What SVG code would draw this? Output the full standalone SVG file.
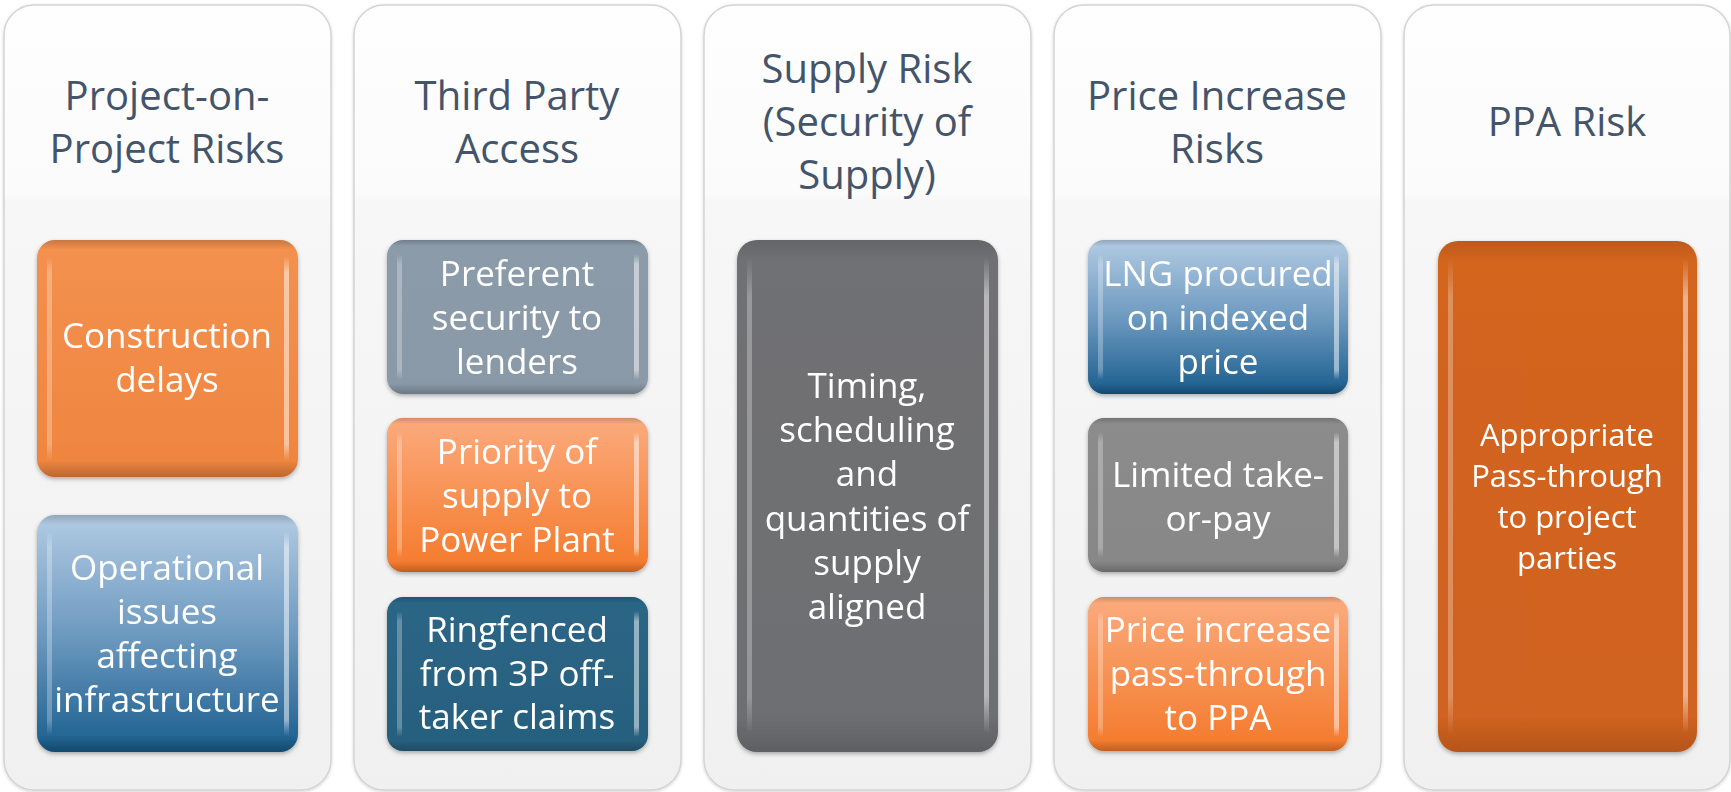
<svg xmlns="http://www.w3.org/2000/svg" width="1731" height="792" viewBox="0 0 1731 792">
<style>
.panel{fill:url(#panelG);stroke:#d4d4d4;stroke-width:1.5}
.title{font-family:"Open Sans","Noto Sans",sans-serif;font-size:40px;fill:#44546A;text-anchor:middle}
.lbl{font-family:"Open Sans","Noto Sans",sans-serif;font-size:35px;fill:#ffffff;text-anchor:middle}
.lbl5{font-family:"Open Sans","Noto Sans",sans-serif;font-size:31px;fill:#ffffff;text-anchor:middle}
.box{filter:url(#sh)}
.bev{fill:url(#bevV)}
.hl{fill:url(#hlG);opacity:.28}
.hr{fill:url(#hlG);opacity:.5}
</style>
<defs>
<linearGradient id="panelG" x1="0" y1="0" x2="0" y2="1">
<stop offset="0" stop-color="#fefefe"/><stop offset="0.24" stop-color="#fbfbfb"/><stop offset="0.25" stop-color="#f7f7f7"/><stop offset="1" stop-color="#f0f0f0"/>
</linearGradient>
<linearGradient id="hlG" x1="0" y1="0" x2="0" y2="1">
<stop offset="0" stop-color="#fff" stop-opacity="0"/><stop offset="0.08" stop-color="#fff" stop-opacity="1"/><stop offset="0.92" stop-color="#fff" stop-opacity="1"/><stop offset="1" stop-color="#fff" stop-opacity="0"/>
</linearGradient>
<linearGradient id="bevV" x1="0" y1="0" x2="0" y2="1">
<stop offset="0" stop-color="#000" stop-opacity=".18"/><stop offset="0.04" stop-color="#000" stop-opacity="0"/><stop offset="0.93" stop-color="#000" stop-opacity="0"/><stop offset="1" stop-color="#000" stop-opacity=".22"/>
</linearGradient>
<linearGradient id="gOr1" x1="0" y1="0" x2="0" y2="1"><stop offset="0" stop-color="#F3914F"/><stop offset="1" stop-color="#EF853F"/></linearGradient>
<linearGradient id="gBlue" x1="0" y1="0" x2="0" y2="1"><stop offset="0" stop-color="#B2CBE3"/><stop offset="0.5" stop-color="#6E9AC0"/><stop offset="1" stop-color="#195D8D"/></linearGradient>
<linearGradient id="gSlate" x1="0" y1="0" x2="0" y2="1"><stop offset="0" stop-color="#8B9BAA"/><stop offset="1" stop-color="#8A99A8"/></linearGradient>
<linearGradient id="gOr2" x1="0" y1="0" x2="0" y2="1"><stop offset="0" stop-color="#FBAB7E"/><stop offset="1" stop-color="#F4792A"/></linearGradient>
<linearGradient id="gTeal" x1="0" y1="0" x2="0" y2="1"><stop offset="0" stop-color="#2A6686"/><stop offset="1" stop-color="#285F7E"/></linearGradient>
<linearGradient id="gGray1" x1="0" y1="0" x2="0" y2="1"><stop offset="0" stop-color="#707174"/><stop offset="1" stop-color="#6D6E71"/></linearGradient>
<linearGradient id="gGray2" x1="0" y1="0" x2="0" y2="1"><stop offset="0" stop-color="#8C8C8C"/><stop offset="1" stop-color="#878787"/></linearGradient>
<linearGradient id="gOr3" x1="0" y1="0" x2="0" y2="1"><stop offset="0" stop-color="#D3651F"/><stop offset="1" stop-color="#D06220"/></linearGradient>
<filter id="sh" x="-10%" y="-10%" width="120%" height="125%"><feDropShadow dx="0" dy="2" stdDeviation="2" flood-color="#000" flood-opacity=".3"/></filter>
<filter id="psh" x="-5%" y="-5%" width="110%" height="110%"><feDropShadow dx="0" dy="1" stdDeviation="1.5" flood-color="#000" flood-opacity=".18"/></filter>
</defs>

<g id="col1">
<rect class="panel" x="4" y="5" width="327" height="785" rx="30" filter="url(#psh)"/>
<text class="title" x="167" y="110">Project-on-</text>
<text class="title" x="167" y="163">Project Risks</text>
<g id="construction-delays" class="box">
<rect x="37" y="240" width="261" height="237" rx="18" fill="url(#gOr1)"/>
<rect class="bev" x="37" y="240" width="261" height="237" rx="18"/>
<rect class="hl" x="47" y="256" width="5" height="205" rx="2.5"/>
<rect class="hr" x="284" y="256" width="5" height="205" rx="2.5"/>
<text class="lbl" x="167" y="348">Construction</text>
<text class="lbl" x="167" y="392">delays</text>
</g>
<g id="operational-issues" class="box">
<rect x="37" y="515" width="261" height="237" rx="18" fill="url(#gBlue)"/>
<rect class="bev" x="37" y="515" width="261" height="237" rx="18"/>
<rect class="hl" x="47" y="531" width="5" height="205" rx="2.5"/>
<rect class="hr" x="284" y="531" width="5" height="205" rx="2.5"/>
<text class="lbl" x="167" y="580">Operational</text>
<text class="lbl" x="167" y="624">issues</text>
<text class="lbl" x="167" y="668">affecting</text>
<text class="lbl" x="167" y="712">infrastructure</text>
</g>
</g>

<g id="col2">
<rect class="panel" x="354" y="5" width="327" height="785" rx="30" filter="url(#psh)"/>
<text class="title" x="517" y="110">Third Party</text>
<text class="title" x="517" y="163">Access</text>
<g id="preferent-security" class="box">
<rect x="387" y="240" width="261" height="154" rx="16" fill="url(#gSlate)"/>
<rect class="bev" x="387" y="240" width="261" height="154" rx="16"/>
<rect class="hl" x="397" y="254" width="5" height="126" rx="2.5"/>
<rect class="hr" x="634" y="254" width="5" height="126" rx="2.5"/>
<text class="lbl" x="517" y="286">Preferent</text>
<text class="lbl" x="517" y="330">security to</text>
<text class="lbl" x="517" y="374">lenders</text>
</g>
<g id="priority-of-supply" class="box">
<rect x="387" y="418" width="261" height="154" rx="16" fill="url(#gOr2)"/>
<rect class="bev" x="387" y="418" width="261" height="154" rx="16"/>
<rect class="hl" x="397" y="432" width="5" height="126" rx="2.5"/>
<rect class="hr" x="634" y="432" width="5" height="126" rx="2.5"/>
<text class="lbl" x="517" y="464">Priority of</text>
<text class="lbl" x="517" y="508">supply to</text>
<text class="lbl" x="517" y="552">Power Plant</text>
</g>
<g id="ringfenced" class="box">
<rect x="387" y="597" width="261" height="154" rx="16" fill="url(#gTeal)"/>
<rect class="bev" x="387" y="597" width="261" height="154" rx="16"/>
<rect class="hl" x="397" y="611" width="5" height="126" rx="2.5"/>
<rect class="hr" x="634" y="611" width="5" height="126" rx="2.5"/>
<text class="lbl" x="517" y="642">Ringfenced</text>
<text class="lbl" x="517" y="686">from 3P off-</text>
<text class="lbl" x="517" y="729">taker claims</text>
</g>
</g>

<g id="col3">
<rect class="panel" x="704" y="5" width="327" height="785" rx="30" filter="url(#psh)"/>
<text class="title" x="867" y="83">Supply Risk</text>
<text class="title" x="867" y="136">(Security of</text>
<text class="title" x="867" y="189">Supply)</text>
<g id="timing-scheduling" class="box">
<rect x="737" y="240" width="261" height="512" rx="20" fill="url(#gGray1)"/>
<rect class="bev" x="737" y="240" width="261" height="512" rx="20" opacity=".6"/>
<rect class="hl" x="747" y="258" width="5" height="476" rx="2.5"/>
<rect class="hr" x="984" y="258" width="5" height="476" rx="2.5"/>
<text class="lbl" x="867" y="398">Timing,</text>
<text class="lbl" x="867" y="442">scheduling</text>
<text class="lbl" x="867" y="486">and</text>
<text class="lbl" x="867" y="531">quantities of</text>
<text class="lbl" x="867" y="575">supply</text>
<text class="lbl" x="867" y="619">aligned</text>
</g>
</g>

<g id="col4">
<rect class="panel" x="1054" y="5" width="327" height="785" rx="30" filter="url(#psh)"/>
<text class="title" x="1217" y="110">Price Increase</text>
<text class="title" x="1217" y="163">Risks</text>
<g id="lng-procured" class="box">
<rect x="1088" y="240" width="260" height="154" rx="16" fill="url(#gBlue)"/>
<rect class="bev" x="1088" y="240" width="260" height="154" rx="16"/>
<rect class="hl" x="1098" y="254" width="5" height="126" rx="2.5"/>
<rect class="hr" x="1334" y="254" width="5" height="126" rx="2.5"/>
<text class="lbl" x="1218" y="286">LNG procured</text>
<text class="lbl" x="1218" y="330">on indexed</text>
<text class="lbl" x="1218" y="374">price</text>
</g>
<g id="limited-take-or-pay" class="box">
<rect x="1088" y="418" width="260" height="154" rx="16" fill="url(#gGray2)"/>
<rect class="bev" x="1088" y="418" width="260" height="154" rx="16"/>
<rect class="hl" x="1098" y="432" width="5" height="126" rx="2.5"/>
<rect class="hr" x="1334" y="432" width="5" height="126" rx="2.5"/>
<text class="lbl" x="1218" y="487">Limited take-</text>
<text class="lbl" x="1218" y="531">or-pay</text>
</g>
<g id="price-increase-pass-through" class="box">
<rect x="1088" y="597" width="260" height="154" rx="16" fill="url(#gOr2)"/>
<rect class="bev" x="1088" y="597" width="260" height="154" rx="16"/>
<rect class="hl" x="1098" y="611" width="5" height="126" rx="2.5"/>
<rect class="hr" x="1334" y="611" width="5" height="126" rx="2.5"/>
<text class="lbl" x="1218" y="642">Price increase</text>
<text class="lbl" x="1218" y="686">pass-through</text>
<text class="lbl" x="1218" y="730">to PPA</text>
</g>
</g>

<g id="col5">
<rect class="panel" x="1404" y="5" width="326" height="785" rx="30" filter="url(#psh)"/>
<text class="title" x="1567" y="136">PPA Risk</text>
<g id="appropriate-pass-through" class="box">
<rect x="1438" y="241" width="259" height="511" rx="20" fill="url(#gOr3)"/>
<rect class="bev" x="1438" y="241" width="259" height="511" rx="20" opacity=".6"/>
<rect class="hl" x="1448" y="259" width="5" height="475" rx="2.5"/>
<rect class="hr" x="1683" y="259" width="5" height="475" rx="2.5"/>
<text class="lbl5" x="1567" y="446">Appropriate</text>
<text class="lbl5" x="1567" y="487">Pass-through</text>
<text class="lbl5" x="1567" y="528">to project</text>
<text class="lbl5" x="1567" y="569">parties</text>
</g>
</g>

<g id="connectors"></g>
</svg>
